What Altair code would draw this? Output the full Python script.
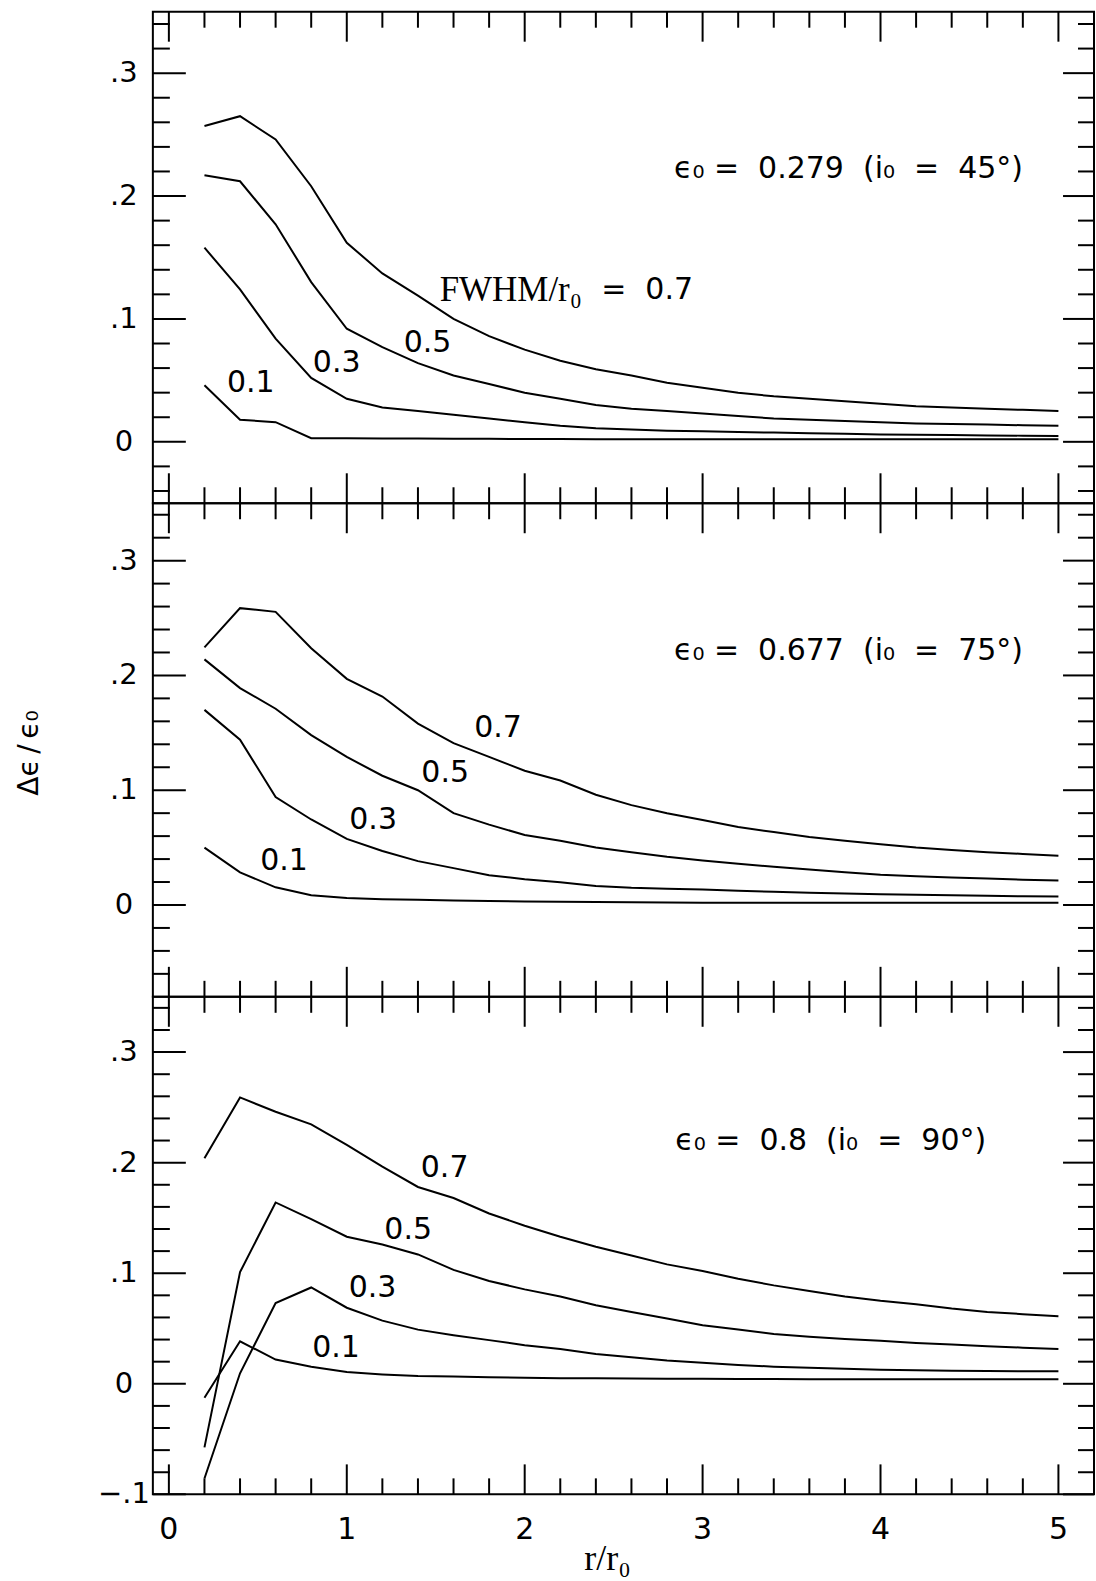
import altair as alt
import pandas as pd

# ---------------- data ----------------
R = [0.2, 0.4, 0.6, 0.8, 1.0, 1.2, 1.4, 1.6, 1.8, 2.0, 2.2, 2.4, 2.6,
     2.8, 3.0, 3.2, 3.4, 3.6, 3.8, 4.0, 4.2, 4.4, 4.6, 4.8, 5.0]
FWHM = ["0.1", "0.3", "0.5", "0.7"]

# panel 1: eps0 = 0.279 (i0 = 45 deg)
P1_01 = [0.046, 0.018, 0.016, 0.003, 0.003, 0.0028, 0.0026, 0.0025, 0.0024, 0.0023, 0.0022, 0.0021, 0.002,
         0.002, 0.002, 0.002, 0.002, 0.002, 0.002, 0.002, 0.002, 0.002, 0.002, 0.002, 0.002]
P1_03 = [0.158, 0.124, 0.084, 0.052, 0.035, 0.028, 0.025, 0.022, 0.019, 0.016, 0.013, 0.011, 0.010,
         0.009, 0.0085, 0.008, 0.0075, 0.007, 0.0065, 0.006, 0.0058, 0.0055, 0.0052, 0.005, 0.0048]
P1_05 = [0.217, 0.212, 0.177, 0.130, 0.092, 0.077, 0.064, 0.054, 0.047, 0.040, 0.035, 0.030, 0.027,
         0.025, 0.023, 0.021, 0.019, 0.018, 0.017, 0.016, 0.015, 0.0145, 0.014, 0.0135, 0.013]
P1_07 = [0.257, 0.265, 0.246, 0.208, 0.162, 0.137, 0.119, 0.100, 0.086, 0.075, 0.066, 0.059, 0.054,
         0.048, 0.044, 0.040, 0.037, 0.035, 0.033, 0.031, 0.029, 0.028, 0.027, 0.026, 0.025]

# panel 2: eps0 = 0.677 (i0 = 75 deg)
P2_01 = [0.050, 0.0284, 0.0154, 0.0084, 0.0061, 0.005, 0.0045, 0.004, 0.0035, 0.003, 0.0028, 0.0025, 0.0023,
         0.0021, 0.002, 0.002, 0.002, 0.002, 0.002, 0.002, 0.002, 0.002, 0.002, 0.002, 0.002]
P2_03 = [0.170, 0.144, 0.094, 0.0745, 0.0576, 0.0471, 0.0382, 0.0321, 0.026, 0.0224, 0.0198, 0.0166, 0.015,
         0.0142, 0.0135, 0.0125, 0.0115, 0.0107, 0.0100, 0.0094, 0.0089, 0.0084, 0.0080, 0.0076, 0.0073]
P2_05 = [0.214, 0.189, 0.171, 0.148, 0.129, 0.1126, 0.100, 0.080, 0.070, 0.061, 0.056, 0.050, 0.046,
         0.042, 0.0388, 0.036, 0.0333, 0.031, 0.0285, 0.0264, 0.025, 0.024, 0.023, 0.022, 0.0213]
P2_07 = [0.2245, 0.2586, 0.2554, 0.2237, 0.197, 0.1816, 0.158, 0.141, 0.129, 0.117, 0.1085, 0.096, 0.087,
         0.080, 0.074, 0.068, 0.0635, 0.0593, 0.056, 0.053, 0.050, 0.048, 0.046, 0.0445, 0.043]

# panel 3: eps0 = 0.8 (i0 = 90 deg)
P3_01 = [-0.0127, 0.0384, 0.0219, 0.0155, 0.0106, 0.0085, 0.007, 0.0065, 0.006, 0.0055, 0.005, 0.005, 0.0048,
         0.0046, 0.0045, 0.0044, 0.0043, 0.0042, 0.0041, 0.004, 0.004, 0.004, 0.004, 0.004, 0.004]
P3_03 = [-0.0857, 0.0095, 0.073, 0.0871, 0.0688, 0.0571, 0.049, 0.044, 0.0395, 0.0349, 0.0314, 0.027, 0.024,
         0.021, 0.019, 0.017, 0.0155, 0.0145, 0.0135, 0.0128, 0.0123, 0.0119, 0.0116, 0.0114, 0.0113]
P3_05 = [-0.0575, 0.101, 0.164, 0.149, 0.133, 0.126, 0.117, 0.103, 0.093, 0.0854, 0.079, 0.071, 0.065,
         0.059, 0.053, 0.049, 0.045, 0.0425, 0.0405, 0.039, 0.037, 0.0355, 0.034, 0.0327, 0.0315]
P3_07 = [0.204, 0.259, 0.246, 0.2346, 0.216, 0.1965, 0.178, 0.168, 0.154, 0.143, 0.133, 0.124, 0.116,
         0.108, 0.102, 0.095, 0.089, 0.084, 0.079, 0.075, 0.072, 0.068, 0.065, 0.063, 0.061]

# axis ticks and labels
X_MAJOR = [0, 1, 2, 3, 4, 5]
X_MINOR = [0.2, 0.4, 0.6, 0.8, 1.2, 1.4, 1.6, 1.8, 2.2, 2.4, 2.6, 2.8,
           3.2, 3.4, 3.6, 3.8, 4.2, 4.4, 4.6, 4.8]
X_LABELS = ["0", "1", "2", "3", "4", "5"]

Y_MAJOR_A = [0.0, 0.1, 0.2, 0.3]
Y_LABELS_A = ["0", ".1", ".2", ".3"]
Y_MAJOR_C = [-0.1, 0.0, 0.1, 0.2, 0.3]
Y_LABELS_C = ["\u2212.1", "0", ".1", ".2", ".3"]
Y_MINOR_1 = [-0.04, -0.02, 0.02, 0.04, 0.06, 0.08, 0.12, 0.14, 0.16, 0.18,
             0.22, 0.24, 0.26, 0.28, 0.32, 0.34]
Y_MINOR_2 = [-0.06, -0.04, -0.02, 0.02, 0.04, 0.06, 0.08, 0.12, 0.14, 0.16, 0.18,
             0.22, 0.24, 0.26, 0.28, 0.32, 0.34]
Y_MINOR_3 = [-0.08, -0.06, -0.04, -0.02, 0.02, 0.04, 0.06, 0.08, 0.12, 0.14, 0.16, 0.18,
             0.22, 0.24, 0.26, 0.28, 0.32, 0.34]

# curve labels (x, y, text) per panel
LAB1_X = [0.46, 0.943, 1.454]
LAB1_Y = [0.0476, 0.0638, 0.080]
LAB1_T = ["0.1", "0.3", "0.5"]
LAB2_X = [0.647, 1.148, 1.553, 1.85]
LAB2_Y = [0.0384, 0.074, 0.1147, 0.1544]
LAB2_T = ["0.1", "0.3", "0.5", "0.7"]
LAB3_X = [0.94, 1.145, 1.345, 1.55]
LAB3_Y = [0.032, 0.087, 0.139, 0.195]
LAB3_T = ["0.1", "0.3", "0.5", "0.7"]

NB = "\u00a0"
ANNOT_T = [f"\u03f5\u2080{NB}={NB}{NB}0.279{NB}{NB}(i\u2080{NB}{NB}={NB}{NB}45\u00b0)",
           f"\u03f5\u2080{NB}={NB}{NB}0.677{NB}{NB}(i\u2080{NB}{NB}={NB}{NB}75\u00b0)",
           f"\u03f5\u2080{NB}={NB}{NB}0.8{NB}{NB}(i\u2080{NB}{NB}={NB}{NB}90\u00b0)"]
ANNOT_X = [3.82, 3.82, 3.72]
ANNOT_Y = [0.2224, 0.2212, 0.22]

# ---------------- chart ----------------
W = 942
SANS = "DejaVu Sans"
SERIF = "Liberation Serif"
XS = alt.Scale(domain=[-0.09, 5.2], nice=False, zero=False)


def lines_layer(series, ys):
    rows = []
    for f, vals in zip(FWHM, series):
        for r, v in zip(R, vals):
            rows.append({"r": r, "d": v, "fwhm": f})
    return alt.Chart(pd.DataFrame(rows)).mark_line(color="black", strokeWidth=2).encode(
        x=alt.X("r:Q", scale=XS, axis=None),
        y=alt.Y("d:Q", scale=ys, axis=None),
        detail="fwhm:N",
        order="r:Q",
    )


def tick_layers(ys, H, ymaj, ymin):
    out = []
    rule = dict(color="black", strokeWidth=2)
    dmaj = pd.DataFrame({"v": ymaj})
    dmin = pd.DataFrame({"v": ymin})
    for d, ln_l, ln_r in [(dmaj, 33, 31), (dmin, 17, 16)]:
        out.append(alt.Chart(d).mark_rule(**rule).encode(
            y=alt.Y("v:Q", scale=ys, axis=None), x=alt.value(0), x2=alt.value(ln_l)))
        out.append(alt.Chart(d).mark_rule(**rule).encode(
            y=alt.Y("v:Q", scale=ys, axis=None), x=alt.value(W), x2=alt.value(W - ln_r)))
    xmaj = pd.DataFrame({"t": X_MAJOR})
    xmin = pd.DataFrame({"t": X_MINOR})
    for d, ln in [(xmaj, 30), (xmin, 16)]:
        out.append(alt.Chart(d).mark_rule(**rule).encode(
            x=alt.X("t:Q", scale=XS, axis=None), y=alt.value(0), y2=alt.value(ln)))
        out.append(alt.Chart(d).mark_rule(**rule).encode(
            x=alt.X("t:Q", scale=XS, axis=None), y=alt.value(H), y2=alt.value(H - ln)))
    return out


def ylabel_layer(ys, vals, labels):
    d = pd.DataFrame({"v": vals, "t": labels})
    return alt.Chart(d).mark_text(font=SANS, fontSize=29, align="center", baseline="middle",
                                  color="black").encode(
        y=alt.Y("v:Q", scale=ys, axis=None), x=alt.value(-29), text="t:N")


def curve_label_layer(ys, xs_, ys_, ts):
    d = pd.DataFrame({"x": xs_, "y": ys_, "t": ts})
    return alt.Chart(d).mark_text(font=SANS, fontSize=30, align="center", baseline="middle",
                                  color="black").encode(
        x=alt.X("x:Q", scale=XS, axis=None), y=alt.Y("y:Q", scale=ys, axis=None), text="t:N")


def annot_layer(ys, i):
    d = pd.DataFrame({"x": [ANNOT_X[i]], "y": [ANNOT_Y[i]], "t": [ANNOT_T[i]]})
    return alt.Chart(d).mark_text(font=SANS, fontSize=30, align="center", baseline="middle",
                                  color="black").encode(
        x=alt.X("x:Q", scale=XS, axis=None), y=alt.Y("y:Q", scale=ys, axis=None), text="t:N")


one = pd.DataFrame({"a": [0]})

# ---- panel 1
H1 = 492
YS1 = alt.Scale(domain=[-0.05, 0.35], nice=False, zero=False)
p1_layers = [lines_layer([P1_01, P1_03, P1_05, P1_07], YS1)]
p1_layers += tick_layers(YS1, H1, Y_MAJOR_A, Y_MINOR_1)
p1_layers.append(ylabel_layer(YS1, Y_MAJOR_A, Y_LABELS_A))
p1_layers.append(curve_label_layer(YS1, LAB1_X, LAB1_Y, LAB1_T))
p1_layers.append(annot_layer(YS1, 0))
# "FWHM/r0 = 0.7" label
d_fw = pd.DataFrame({"x": [1.522], "y": [0.1232], "t": ["FWHM/r\u2080"]})
p1_layers.append(alt.Chart(d_fw).mark_text(font=SERIF, fontSize=35, align="left", baseline="middle",
                                           color="black").encode(
    x=alt.X("x:Q", scale=XS, axis=None), y=alt.Y("y:Q", scale=YS1, axis=None), text="t:N"))
d_fw2 = pd.DataFrame({"x": [2.43], "y": [0.1232], "t": [f"={NB}{NB}0.7"]})
p1_layers.append(alt.Chart(d_fw2).mark_text(font=SANS, fontSize=30, align="left", baseline="middle",
                                            color="black").encode(
    x=alt.X("x:Q", scale=XS, axis=None), y=alt.Y("y:Q", scale=YS1, axis=None), text="t:N"))
# invisible anchor fixing the plot origin on the page
p1_layers.append(alt.Chart(one).mark_rule(opacity=0).encode(
    x=alt.value(-152), x2=alt.value(-152), y=alt.value(-10), y2=alt.value(-6)))
p1 = alt.layer(*p1_layers).properties(width=W, height=H1)

# ---- panel 2
H2 = 494
YS2 = alt.Scale(domain=[-0.08, 0.35], nice=False, zero=False)
p2_layers = [lines_layer([P2_01, P2_03, P2_05, P2_07], YS2)]
p2_layers += tick_layers(YS2, H2, Y_MAJOR_A, Y_MINOR_2)
p2_layers.append(ylabel_layer(YS2, Y_MAJOR_A, Y_LABELS_A))
p2_layers.append(curve_label_layer(YS2, LAB2_X, LAB2_Y, LAB2_T))
p2_layers.append(annot_layer(YS2, 1))
p2_layers.append(alt.Chart(one).mark_text(font=SANS, fontSize=28, angle=270, align="center",
                                          baseline="middle", color="black").encode(
    x=alt.value(-123), y=alt.value(H2 / 2 + 3),
    text=alt.value("\u0394\u03f5\u2009/\u2009\u03f5\u2080")))
p2 = alt.layer(*p2_layers).properties(width=W, height=H2)

# ---- panel 3
H3 = 498
YS3 = alt.Scale(domain=[-0.1, 0.35], nice=False, zero=False)
p3_layers = [lines_layer([P3_01, P3_03, P3_05, P3_07], YS3)]
p3_layers += tick_layers(YS3, H3, Y_MAJOR_C, Y_MINOR_3)
p3_layers.append(ylabel_layer(YS3, Y_MAJOR_C, Y_LABELS_C))
p3_layers.append(curve_label_layer(YS3, LAB3_X, LAB3_Y, LAB3_T))
p3_layers.append(annot_layer(YS3, 2))
d_xl = pd.DataFrame({"t": X_MAJOR, "s": X_LABELS})
p3_layers.append(alt.Chart(d_xl).mark_text(font=SANS, fontSize=30, align="center", baseline="middle",
                                           color="black").encode(
    x=alt.X("t:Q", scale=XS, axis=None), y=alt.value(H3 + 36), text="s:N"))
p3_layers.append(alt.Chart(one).mark_text(font=SERIF, fontSize=36, align="center", baseline="middle",
                                          color="black").encode(
    x=alt.value(455), y=alt.value(H3 + 65), text=alt.value("r/r\u2080")))
p3 = alt.layer(*p3_layers).properties(width=W, height=H3)

chart = alt.vconcat(p1, p2, p3, spacing=0, bounds="flush").properties(
    padding={"left": 0, "top": 0, "right": 0, "bottom": 0}
).configure_view(stroke="black", strokeWidth=2)

chart.save("out.html", embed_options={"renderer": "svg", "actions": False})
